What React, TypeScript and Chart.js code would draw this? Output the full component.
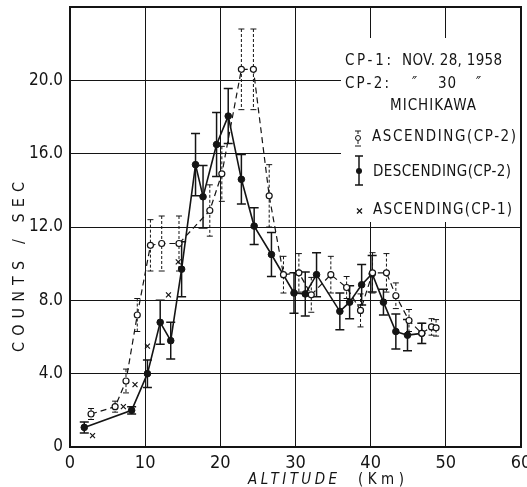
import React, { useEffect, useRef } from 'react';
import { Chart, registerables } from 'chart.js';

Chart.register(...registerables);

// ---- Data ----
// Ascending (CP-2): open circles, dashed line, dashed error bars
const ascAltitude = [2.8, 6.0, 7.45, 8.95, 10.7, 12.2, 14.5, 18.6, 20.2, 22.8, 24.4, 26.5, 28.4, 30.45, 32.1, 34.7, 36.8, 38.65, 40.25, 42.1, 43.35, 45.1, 46.8, 48.1, 48.7];
const ascCounts = [1.8, 2.2, 3.6, 7.2, 11.0, 11.1, 11.1, 12.9, 14.9, 20.6, 20.6, 13.7, 9.4, 9.5, 8.3, 9.4, 8.7, 7.45, 9.5, 9.5, 8.25, 6.9, 6.2, 6.55, 6.5];
const ascError = [0.3, 0.3, 0.65, 0.9, 1.4, 1.5, 1.5, 1.4, 1.5, 2.2, 2.2, 1.7, 1.0, 1.05, 0.95, 1.0, 0.6, 0.9, 1.1, 1.05, 0.7, 0.6, 0.55, 0.45, 0.45];

// Descending (CP-2): filled circles, solid line, solid error bars
const descAltitude = [1.9, 8.2, 10.3, 12.0, 13.4, 14.85, 16.7, 17.7, 19.5, 21.05, 22.8, 24.5, 26.8, 29.8, 31.3, 32.8, 35.9, 37.2, 38.8, 40.2, 41.7, 43.35, 44.9, 46.8];
const descCounts = [1.07, 2.0, 4.0, 6.8, 5.8, 9.7, 15.4, 13.65, 16.5, 18.05, 14.6, 12.05, 10.5, 8.4, 8.35, 9.4, 7.4, 7.9, 8.85, 9.45, 7.9, 6.3, 6.1, 6.2];
const descError = [0.3, 0.2, 0.75, 1.2, 1.0, 1.5, 1.7, 1.7, 1.75, 1.5, 1.35, 1.0, 1.2, 1.1, 1.2, 1.2, 1.0, 0.9, 1.1, 1.0, 0.7, 0.95, 0.85, 0.55];

// Ascending (CP-1): crosses, no line
const cp1Altitude = [3.0, 7.1, 8.65, 10.3, 13.1, 14.4];
const cp1Counts = [0.62, 2.2, 3.4, 5.5, 8.3, 10.1];

const xTickValues = [0, 10, 20, 30, 40, 50, 60];
const yTickValues = [0, 4, 8, 12, 16, 20, 24];
const yTickLabels = ['0', '4.0', '8.0', '12.0', '16.0', '20.0', ''];

const legendLines = {
  cp1Label: 'CP-1:',
  cp1Date: 'NOV. 28, 1958',
  cp2Label: 'CP-2:',
  ditto: '\u2033',
  cp2Day: '30',
  place: 'MICHIKAWA',
  asc2: 'ASCENDING(CP-2)',
  desc2: 'DESCENDING(CP-2)',
  asc1: 'ASCENDING(CP-1)',
};
const yTitle = 'COUNTS / SEC';
const xTitleA = 'ALTITUDE';
const xTitleB = '(Km)';

const FONT = '"Liberation Sans Narrow", "DejaVu Sans Condensed", "Liberation Sans", sans-serif';
const INK = '#141414';

function drawSpaced(ctx: CanvasRenderingContext2D, text: string, x: number, y: number, target: number, font: string) {
  ctx.save();
  ctx.font = font;
  (ctx as any).letterSpacing = '0px';
  const w = ctx.measureText(text).width;
  const n = text.length;
  const ls = n > 1 ? (target - w) / (n - 1) : 0;
  (ctx as any).letterSpacing = ls + 'px';
  ctx.textBaseline = 'middle';
  ctx.textAlign = 'left';
  ctx.fillStyle = INK;
  ctx.fillText(text, x, y);
  ctx.restore();
}

const errorSets = [
  { xs: ascAltitude, ys: ascCounts, err: ascError, dash: [3, 2], width: 1, cap: 3 },
  { xs: descAltitude, ys: descCounts, err: descError, dash: [], width: 1.5, cap: 4.5 },
];

const errorBarPlugin = {
  id: 'errorBars',
  beforeDatasetsDraw(chart: any) {
    const ctx = chart.ctx as CanvasRenderingContext2D;
    const xs = chart.scales.x;
    const ys = chart.scales.y;
    ctx.save();
    ctx.strokeStyle = INK;
    for (const s of errorSets) {
      ctx.lineWidth = s.width;
      for (let j = 0; j < s.xs.length; j++) {
        const px = xs.getPixelForValue(s.xs[j]);
        const top = ys.getPixelForValue(s.ys[j] + s.err[j]);
        const bot = ys.getPixelForValue(s.ys[j] - s.err[j]);
        ctx.setLineDash(s.dash);
        ctx.beginPath();
        ctx.moveTo(px, top);
        ctx.lineTo(px, bot);
        ctx.stroke();
        ctx.setLineDash([]);
        ctx.beginPath();
        ctx.moveTo(px - s.cap, top);
        ctx.lineTo(px + s.cap, top);
        ctx.moveTo(px - s.cap, bot);
        ctx.lineTo(px + s.cap, bot);
        ctx.stroke();
      }
    }
    ctx.restore();
  },
};

const decorPlugin = {
  id: 'decor',
  afterDraw(chart: any) {
    const ctx = chart.ctx as CanvasRenderingContext2D;
    const ca = chart.chartArea;
    ctx.save();
    // legend box (white, covers grid)
    ctx.fillStyle = '#ffffff';
    ctx.fillRect(341, 38, ca.right - 342, 184);

    const f = '15px ' + FONT;
    drawSpaced(ctx, legendLines.cp1Label, 345, 61, 46, f);
    drawSpaced(ctx, legendLines.cp1Date, 402, 61, 100, f);
    drawSpaced(ctx, legendLines.cp2Label, 345, 84, 44, f);
    drawSpaced(ctx, legendLines.ditto, 412, 84, 8, 'italic 15px ' + FONT);
    drawSpaced(ctx, legendLines.cp2Day, 438, 84, 18, f);
    drawSpaced(ctx, legendLines.ditto, 476, 84, 8, 'italic 15px ' + FONT);
    drawSpaced(ctx, legendLines.place, 390, 106, 86, f);
    drawSpaced(ctx, legendLines.asc2, 372, 137, 144, f);
    drawSpaced(ctx, legendLines.desc2, 373, 172, 138, f);
    drawSpaced(ctx, legendLines.asc1, 373, 210, 139, f);

    // legend symbols
    ctx.strokeStyle = INK;
    ctx.fillStyle = INK;
    ctx.lineWidth = 1;
    ctx.setLineDash([3, 2]);
    ctx.beginPath(); ctx.moveTo(358, 131); ctx.lineTo(358, 146); ctx.stroke();
    ctx.setLineDash([]);
    ctx.beginPath(); ctx.moveTo(355, 131); ctx.lineTo(361, 131); ctx.moveTo(355, 146); ctx.lineTo(361, 146); ctx.stroke();
    ctx.beginPath(); ctx.arc(358, 138, 2.5, 0, Math.PI * 2); ctx.fillStyle = '#fff'; ctx.fill(); ctx.stroke();
    ctx.fillStyle = INK;
    ctx.lineWidth = 1.5;
    ctx.beginPath(); ctx.moveTo(359, 156); ctx.lineTo(359, 185); ctx.stroke();
    ctx.beginPath(); ctx.moveTo(355, 156); ctx.lineTo(363, 156); ctx.moveTo(355, 185); ctx.lineTo(363, 185); ctx.stroke();
    ctx.beginPath(); ctx.arc(359, 171, 3, 0, Math.PI * 2); ctx.fill();
    ctx.lineWidth = 1.2;
    ctx.beginPath(); ctx.moveTo(357, 208.5); ctx.lineTo(362, 213.5); ctx.moveTo(362, 208.5); ctx.lineTo(357, 213.5); ctx.stroke();

    // frame
    ctx.lineWidth = 2;
    ctx.strokeRect(ca.left, ca.top, ca.right - ca.left, ca.bottom - ca.top);

    // y title (rotated)
    ctx.save();
    ctx.translate(19.5, 267);
    ctx.rotate(-Math.PI / 2);
    drawSpaced(ctx, yTitle, -85, 0, 170, '16px ' + FONT);
    ctx.restore();

    // x title
    drawSpaced(ctx, xTitleA, 248, 480.5, 89, 'italic 15px ' + FONT);
    drawSpaced(ctx, xTitleB, 358, 480.5, 46, '15px ' + FONT);
    ctx.restore();
  },
};

export default function App() {
  const ref = useRef<HTMLCanvasElement | null>(null);
  useEffect(() => {
    if (!ref.current) return;
    const chart = new Chart(ref.current, {
      type: 'line',
      data: {
        datasets: [
          {
            label: 'Ascending (CP-2)',
            data: ascAltitude.map((x, i) => ({ x, y: ascCounts[i] })),
            borderColor: INK,
            borderWidth: 1.2,
            borderDash: [6, 4],
            pointStyle: 'circle',
            pointRadius: 3,
            pointBackgroundColor: '#ffffff',
            pointBorderColor: INK,
            pointBorderWidth: 1.2,
            tension: 0,
          },
          {
            label: 'Descending (CP-2)',
            data: descAltitude.map((x, i) => ({ x, y: descCounts[i] })),
            borderColor: INK,
            borderWidth: 1.6,
            pointStyle: 'circle',
            pointRadius: 3.3,
            pointBackgroundColor: INK,
            pointBorderColor: INK,
            pointBorderWidth: 1,
            tension: 0,
          },
          {
            label: 'Ascending (CP-1)',
            data: cp1Altitude.map((x, i) => ({ x, y: cp1Counts[i] })),
            showLine: false,
            borderColor: INK,
            pointStyle: 'crossRot',
            pointRadius: 3.5,
            pointBorderColor: INK,
            pointBorderWidth: 1.2,
          },
        ],
      },
      options: {
        animation: false,
        responsive: false,
        maintainAspectRatio: false,
        devicePixelRatio: 1,
        layout: { padding: { top: 7, right: 6, left: 0, bottom: 0 } },
        plugins: { legend: { display: false }, tooltip: { enabled: false }, title: { display: false } },
        scales: {
          x: {
            type: 'linear',
            min: 0,
            max: 60,
            afterFit: (s: any) => { s.height = 40; s.paddingLeft = 0; s.paddingRight = 0; },
            afterBuildTicks: (s: any) => { s.ticks = xTickValues.map((v) => ({ value: v })); },
            ticks: {
              color: INK,
              font: { family: FONT, size: 18 },
              padding: 6,
              maxRotation: 0,
              callback: (v: any) => String(v),
            },
            grid: { color: INK, lineWidth: 1, drawTicks: false },
            border: { color: INK, width: 2 },
          },
          y: {
            type: 'linear',
            min: 0,
            max: 24,
            afterFit: (s: any) => { s.width = 70; s.paddingTop = 0; s.paddingBottom = 0; },
            afterBuildTicks: (s: any) => { s.ticks = yTickValues.map((v) => ({ value: v })); },
            ticks: {
              color: INK,
              font: { family: FONT, size: 17 },
              padding: 7,
              callback: (v: any) => {
                const i = yTickValues.indexOf(Number(v));
                return i >= 0 ? yTickLabels[i] : '';
              },
            },
            grid: { color: INK, lineWidth: 1, drawTicks: false },
            border: { color: INK, width: 2 },
          },
        },
      },
      plugins: [errorBarPlugin, decorPlugin],
    } as any);
    return () => chart.destroy();
  }, []);
  return (
    <div style={{ position: 'absolute', left: 0, top: 0, width: 527, height: 487, background: '#fff' }}>
      <canvas ref={ref} width={527} height={487} style={{ width: 527, height: 487, display: 'block' }} />
    </div>
  );
}
